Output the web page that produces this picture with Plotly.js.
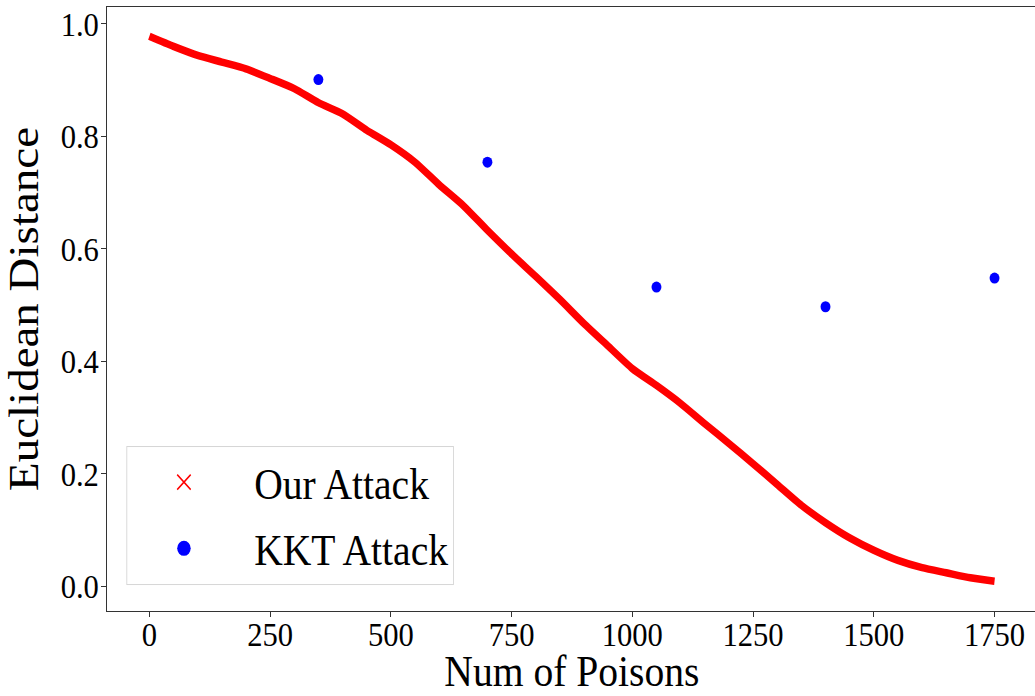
<!DOCTYPE html>
<html>
<head>
<meta charset="utf-8">
<script src="https://cdn.plot.ly/plotly-3.0.1.min.js"></script>
<style>
  html, body { margin: 0; padding: 0; overflow: hidden; background: #fff; width: 1035px; height: 696px; }
  #plot { width: 1155px; height: 696px; transform: scaleX(0.9); transform-origin: 0 0; }
</style>
</head>
<body>
<div id="plot"></div>
<script>
// Our Attack: Euclidean distance vs number of poisons
const ourPoisons = [0, 50, 100, 150, 200, 250, 300, 350, 400, 450, 500, 550, 600, 650, 700, 750, 800, 850, 900, 950, 1000, 1050, 1100, 1150, 1200, 1250, 1300, 1350, 1400, 1450, 1500, 1550, 1600, 1650, 1700, 1750];
const ourDistance = [0.978, 0.960, 0.944, 0.932, 0.920, 0.903, 0.885, 0.860, 0.840, 0.811, 0.785, 0.754, 0.714, 0.677, 0.633, 0.591, 0.551, 0.510, 0.467, 0.427, 0.387, 0.357, 0.325, 0.289, 0.254, 0.218, 0.181, 0.144, 0.113, 0.086, 0.064, 0.046, 0.033, 0.024, 0.015, 0.009];

// KKT Attack
const kktPoisons = [350, 700, 1050, 1400, 1750];
const kktDistance = [0.901, 0.754, 0.532, 0.497, 0.548];

const xTicks = [0, 250, 500, 750, 1000, 1250, 1500, 1750];
const yTicks = [0.0, 0.2, 0.4, 0.6, 0.8, 1.0];

const seriesNames = ['Our Attack', 'KKT Attack'];

const FONT = '"Liberation Serif", "Times New Roman", serif';

const traces = [
  {
    x: ourPoisons, y: ourDistance, type: 'scatter', mode: 'lines',
    line: { color: '#ff0000', width: 7.5, shape: 'spline', smoothing: 0.6 }, showlegend: false
  },
  {
    x: kktPoisons, y: kktDistance, type: 'scatter', mode: 'markers',
    marker: { color: '#0000ff', size: 11, symbol: 'circle' }, showlegend: false
  },
  {
    x: [null], y: [null], type: 'scatter', mode: 'markers', name: seriesNames[0],
    legendgroup: 'a',
    marker: { color: '#ff0000', size: 15, symbol: 'x-thin-open', line: { color: '#ff0000', width: 1.6 } }
  },
  {
    x: [null], y: [null], type: 'scatter', mode: 'markers', name: seriesNames[1],
    legendgroup: 'b',
    marker: { color: '#0000ff', size: 15, symbol: 'circle' }
  }
];

const axisCommon = {
  showline: true, mirror: true, linecolor: '#333', linewidth: 1.3,
  ticks: 'outside', ticklen: 5, tickwidth: 1.2, tickcolor: '#333',
  showgrid: false, zeroline: false,
  tickfont: { family: FONT, size: 34, color: '#000' }
};

const layout = {
  width: 1155, height: 696,
  margin: { l: 119, r: 3, t: 7, b: 85 },
  paper_bgcolor: '#fff', plot_bgcolor: '#fff',
  font: { family: FONT, color: '#000' },
  xaxis: Object.assign({}, axisCommon, {
    range: [-87.5, 1837.5], tickvals: xTicks, ticktext: xTicks.map(String),
    ticklabelstandoff: -12,
    title: { text: 'Num of Poisons', font: { family: FONT, size: 44, color: '#000' }, standoff: 17 }
  }),
  yaxis: Object.assign({}, axisCommon, {
    range: [-0.044, 1.03], tickvals: yTicks, ticktext: yTicks.map(v => v.toFixed(1)),
    ticklabelstandoff: -4,
    title: { text: 'Euclidean Distance', font: { family: FONT, size: 47, color: '#000' }, standoff: 12 }
  }),
  legend: {
    x: 0.0207, y: 0.043, xanchor: 'left', yanchor: 'bottom',
    bgcolor: 'rgba(255,255,255,0.8)', bordercolor: '#d6d6d6', borderwidth: 1,
    font: { family: FONT, size: 44, color: '#000' },
    itemwidth: 146, indentation: -15, traceorder: 'grouped', tracegroupgap: 6
  },
  showlegend: true
};

Plotly.newPlot('plot', traces, layout, { staticPlot: true, displayModeBar: false });
</script>
</body>
</html>
